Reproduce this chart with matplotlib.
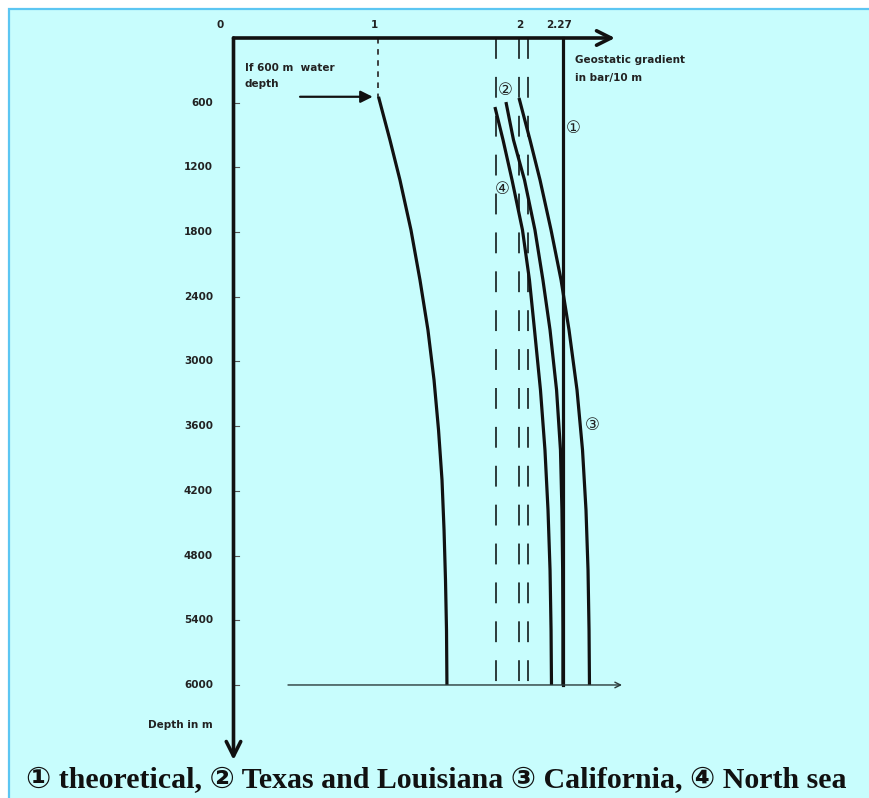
import matplotlib
matplotlib.use("Agg")
import matplotlib.pyplot as plt
from matplotlib.patches import Rectangle

# axis ticks
DEPTH_TICKS = [600, 1200, 1800, 2400, 3000, 3600, 4200, 4800, 5400, 6000]
GRAD_TICKS = [0, 1, 2, 2.27]
GRAD_LABELS = ["0", "1", "2", "2.27"]

# reference gradients
THEORETICAL = 2.27
DASHED_GRAD = [1.81, 1.97, 2.03]
WATER_DEPTH_START = 545

# pressure curves (gradient in bar/10 m vs depth in m)
WATER_DEPTH = [545, 946, 1317, 1781, 2244, 2708, 3172, 3635, 4099, 4563, 5026, 5490, 6000]
WATER_GRAD = [1.0, 1.079, 1.148, 1.224, 1.286, 1.341, 1.383, 1.414, 1.438, 1.452, 1.462,
              1.469, 1.472]

NS_DEPTH = [640, 946, 1317, 1781, 2244, 2708, 3264, 3821, 4377, 4934, 5490, 6000]
NS_GRAD = [1.803, 1.859, 1.921, 1.993, 2.041, 2.076, 2.117, 2.148, 2.169, 2.183, 2.19, 2.193]

TX_DEPTH = [594, 946, 1317, 1781, 2244, 2708, 3264, 3821, 4377, 4934, 5490, 6000]
TX_GRAD = [1.879, 1.931, 2.007, 2.079, 2.134, 2.183, 2.228, 2.255, 2.265, 2.27, 2.272, 2.272]

CA_DEPTH = [556, 946, 1317, 1781, 2244, 2708, 3264, 3821, 4377, 4934, 5490, 6000]
CA_GRAD = [1.969, 2.045, 2.114, 2.19, 2.259, 2.314, 2.369, 2.407, 2.431, 2.445, 2.452, 2.455]

MAX_DEPTH = 6000

W, H = 870, 798
# pixel mapping of the drawing
X0, PX_G = 233.5, 145.0
Y0, PX_M = 38.0, 0.10783

INK = "#111111"
BG = "#c8fdfd"

plt.rcParams["lines.scale_dashes"] = False

fig = plt.figure(figsize=(W / 100, H / 100), dpi=100)
fig.patch.set_facecolor("white")
fig.add_artist(Rectangle((9 / W, -0.01), 1.02, (H - 9) / H + 0.01, transform=fig.transFigure,
                         facecolor=BG, edgecolor="#5cc6f2", lw=1.6, zorder=0))

ax = fig.add_axes([0, 0, 1, 1])
ax.set_xlim(-X0 / PX_G, (W - X0) / PX_G)
ax.set_ylim((H - Y0) / PX_M, -Y0 / PX_M)
ax.axis("off")
ax.patch.set_alpha(0)

# axes with arrows
ax.annotate("", xy=((615 - X0) / PX_G, 0), xytext=(0, 0),
            arrowprops=dict(arrowstyle="->", lw=2.6, color=INK, mutation_scale=26,
                            shrinkA=0, shrinkB=0))
ax.annotate("", xy=(0, (760 - Y0) / PX_M), xytext=(0, 0),
            arrowprops=dict(arrowstyle="->", lw=2.6, color=INK, mutation_scale=26,
                            shrinkA=0, shrinkB=0))

tick_font = dict(fontsize=7.5, fontweight="bold", color="#222222")
for d in DEPTH_TICKS:
    ax.plot([0, 0.035], [d, d], color="#555555", lw=0.8)
    ax.text(-0.141, d, str(d), ha="right", va="center", **tick_font)
for g, lab in zip(GRAD_TICKS, GRAD_LABELS):
    xoff = -0.09 if g == 0 else -0.025
    ax.text(g + xoff, -120, lab, ha="center", va="center", **tick_font)

# reference gradient lines
ax.plot([1, 1], [0, WATER_DEPTH_START], color="#333333", lw=1.3, dashes=(4, 4))
for g in DASHED_GRAD:
    ax.plot([g, g], [0, MAX_DEPTH], color="#2b3b3b", lw=1.4, dashes=(15, 13))
ax.plot([THEORETICAL, THEORETICAL], [0, MAX_DEPTH], color=INK, lw=2.3)

# curves
for grad, depth in [(WATER_GRAD, WATER_DEPTH), (NS_GRAD, NS_DEPTH),
                    (TX_GRAD, TX_DEPTH), (CA_GRAD, CA_DEPTH)]:
    ax.plot(grad, depth, color=INK, lw=2.3, solid_capstyle="butt", solid_joinstyle="round")

# bottom line at max depth
ax.annotate("", xy=((622 - X0) / PX_G, MAX_DEPTH), xytext=((288 - X0) / PX_G, MAX_DEPTH),
            arrowprops=dict(arrowstyle="->", lw=1.0, color="#2a3a3a", mutation_scale=10,
                            shrinkA=0, shrinkB=0))

# water depth annotation
ax.annotate("", xy=(0.96, WATER_DEPTH_START), xytext=(0.459, WATER_DEPTH_START),
            arrowprops=dict(arrowstyle="-|>", lw=1.6, color=INK, mutation_scale=18,
                            shrinkA=0, shrinkB=0))
lab_font = dict(fontsize=7.5, fontweight="bold", color="#222222", va="center", ha="left")
ax.text(0.079, 278, "If 600 m  water", **lab_font)
ax.text(0.079, 427, "depth", **lab_font)
ax.text(2.355, 204, "Geostatic gradient", **lab_font)
ax.text(2.355, 371, "in bar/10 m", **lab_font)
ax.text(-0.141, 6371, "Depth in m", ha="right", va="center", **tick_font)

# curve numbers
num_font = dict(fontsize=12, ha="center", va="center", color="#222222")
ax.text(2.342, 835, "\u2460", **num_font)
ax.text(1.872, 482, "\u2461", **num_font)
ax.text(2.472, 3589, "\u2462", **num_font)
ax.text(1.852, 1400, "\u2463", **num_font)

fig.text(436 / W, 1 - 781 / H,
         "\u2460 theoretical, \u2461 Texas and Louisiana \u2462 California, \u2463 North sea",
         ha="center", va="center", fontsize=21.5, fontweight="bold",
         family=["Liberation Serif", "DejaVu Sans"], color="#111111")

fig.savefig("out.png", dpi=100, facecolor=fig.get_facecolor())
